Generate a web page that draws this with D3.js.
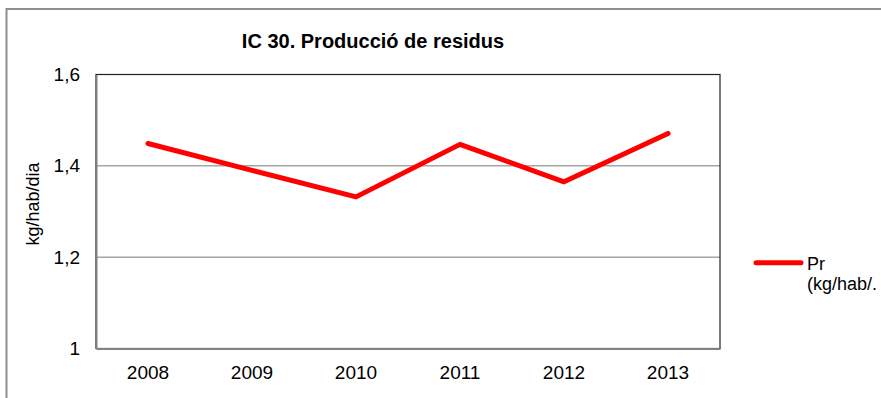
<!DOCTYPE html>
<html>
<head>
<meta charset="utf-8">
<script src="https://cdn.jsdelivr.net/npm/d3@7"></script>
<style>
  html, body { margin: 0; padding: 0; background: #fff; }
  svg { display: block; font-family: "Liberation Sans", Arial, sans-serif; }
</style>
</head>
<body>
<svg id="chart" width="881" height="398"></svg>
<script>
// Waste production per inhabitant and day
const years = ["2008", "2009", "2010", "2011", "2012", "2013"];
const production = [1.449, 1.39, 1.332, 1.447, 1.365, 1.471];
const yTicks = [1, 1.2, 1.4, 1.6];
const titleText = "IC 30. Producció de residus";
const yAxisTitle = "kg/hab/dia";
const legendLines = ["Pr", "(kg/hab/."];

const svg = d3.select("#chart");
const W = 881, H = 398;
const plot = { left: 96, right: 720, top: 74.5, bottom: 348.5 };

// Outer frame of the chart area
svg.append("rect")
  .attr("x", 6.5).attr("y", 9)
  .attr("width", W + 10).attr("height", H + 10)
  .attr("fill", "#fff")
  .attr("stroke", "#8e8e8e").attr("stroke-width", 2);

const x = d3.scaleBand().domain(years).range([plot.left, plot.right]).padding(0);
const y = d3.scaleLinear().domain([1, 1.6]).range([plot.bottom, plot.top]);
const fmt = v => d3.format(".1f")(v).replace(".", ",").replace(",0", "");

// Horizontal gridlines
svg.append("g")
  .selectAll("line")
  .data(yTicks.filter(t => t > 1 && t < 1.6))
  .join("line")
  .attr("x1", plot.left).attr("x2", plot.right)
  .attr("y1", d => y(d)).attr("y2", d => y(d))
  .attr("stroke", "#a6a6a6").attr("stroke-width", 1.5);

// Plot area border
svg.append("rect")
  .attr("x", plot.left).attr("y", plot.top)
  .attr("width", plot.right - plot.left).attr("height", plot.bottom - plot.top)
  .attr("fill", "none").attr("stroke", "#222").attr("stroke-width", 1.2);

// Axes
const yAxis = d3.axisLeft(y).tickValues(yTicks).tickFormat(fmt).tickSize(0).tickPadding(16);
const gy = svg.append("g").attr("transform", `translate(${plot.left},0)`).call(yAxis);
gy.select(".domain").attr("stroke", "#808080").attr("stroke-width", 2);
gy.selectAll("text").attr("font-size", 19).attr("fill", "#000")
  .attr("font-family", "Liberation Sans, Arial, sans-serif");

const xAxis = d3.axisBottom(x).tickSize(0).tickPadding(17);
const gx = svg.append("g").attr("transform", `translate(0,${plot.bottom})`).call(xAxis);
gx.select(".domain").attr("stroke", "#808080").attr("stroke-width", 2);
gx.selectAll("text").attr("font-size", 19).attr("fill", "#000")
  .attr("font-family", "Liberation Sans, Arial, sans-serif");

// Data line
const line = d3.line()
  .x((d, i) => x(years[i]) + x.bandwidth() / 2)
  .y(d => y(d));
svg.append("path")
  .datum(production)
  .attr("d", line)
  .attr("fill", "none")
  .attr("stroke", "#ff0000")
  .attr("stroke-width", 5)
  .attr("stroke-linejoin", "round")
  .attr("stroke-linecap", "round");

// Title
svg.append("text")
  .attr("x", 373).attr("y", 48)
  .attr("text-anchor", "middle")
  .attr("font-size", 20).attr("font-weight", "bold")
  .text(titleText);

// Y axis title
svg.append("text")
  .attr("transform", "translate(39,204) rotate(-90)")
  .attr("text-anchor", "middle")
  .attr("font-size", 18)
  .text(yAxisTitle);

// Legend
svg.append("line")
  .attr("x1", 756).attr("x2", 801)
  .attr("y1", 262.7).attr("y2", 262.7)
  .attr("stroke", "#ff0000").attr("stroke-width", 5)
  .attr("stroke-linecap", "round");
svg.append("g")
  .selectAll("text")
  .data(legendLines)
  .join("text")
  .attr("x", 807)
  .attr("y", (d, i) => 269.5 + i * 20)
  .attr("font-size", 18)
  .text(d => d);
</script>
</body>
</html>
